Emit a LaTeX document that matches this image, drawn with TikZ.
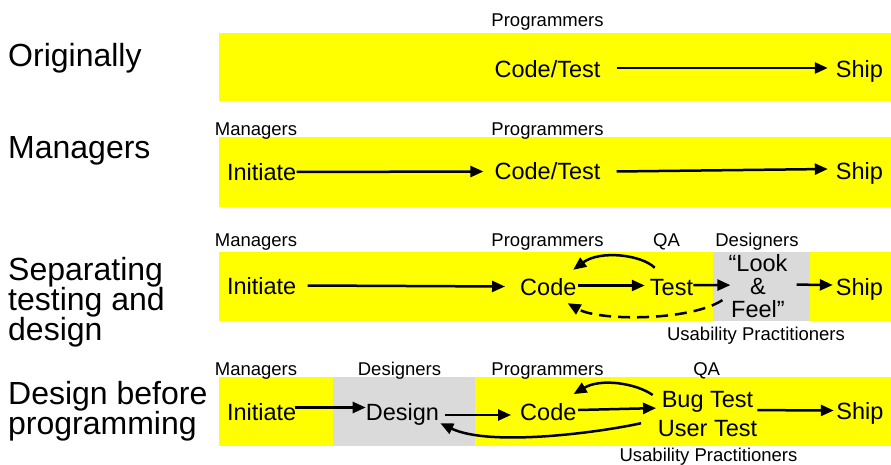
\documentclass[tikz,border=0pt]{standalone}
\usepackage{fontspec}
\setmainfont{Liberation Sans}
\usetikzlibrary{arrows.meta}
\definecolor{bandyellow}{RGB}{255,255,0}
\definecolor{bandgray}{RGB}{218,218,218}
\begin{document}
\begin{tikzpicture}[x=1pt,y=-1pt,
  band/.style={fill=bandyellow, draw=none},
  greyband/.style={fill=bandgray, draw=none},
  rowtitle/.style={font=\fontsize{32}{30}\selectfont, inner sep=0pt, align=left},
  role/.style={font=\fontsize{18.5}{18.5}\selectfont, inner sep=0pt, anchor=base},
  stage/.style={font=\fontsize{23.5}{23.5}\selectfont, inner sep=0pt,
                text height=17pt, text depth=0pt, anchor=base},
  stack/.style={font=\fontsize{23.5}{#1}\selectfont, inner sep=0pt,
                align=center, anchor=north},
  flow/.style={line width=2.5pt, -{Triangle[length=13pt,width=11pt]}},
  feedback/.style={flow, dash pattern=on 12pt off 7pt},
]
\useasboundingbox (0,0) rectangle (891,465);

% ---------- Originally ----------
\fill[band] (219,33) rectangle (891,101);
\node[rowtitle, anchor=base west] (t1) at (8,67) {Originally};
\node[role] (prog1) at (547.5,27) {Programmers};
\node[stage] (ct1) at (547.5,78) {Code/Test};
\node[stage] (ship1) at (859.5,78) {Ship};
\draw[flow] ([xshift=16pt,yshift=1.5pt]ct1.east) -- ([xshift=-8pt,yshift=1.5pt]ship1.west);

% ---------- Managers ----------
\fill[band] (219,137.5) rectangle (891,207.5);
\node[rowtitle, anchor=base west] (t2) at (8,159) {Managers};
\node[role] (mgr2) at (256,135.7) {Managers};
\node[role] (prog2) at (547.5,135.7) {Programmers};
\node[stage] (init2) at (261.7,180.5) {Initiate};
\node[stage] (ct2) at (547.5,180) {Code/Test};
\node[stage] (ship2) at (859.5,180) {Ship};
\draw[flow] (init2.east) -- ([xshift=-11pt]ct2.west);
\draw[flow] ([xshift=16pt]ct2.east) -- ([xshift=-8pt,yshift=2.5pt]ship2.west);

% ---------- Separating testing and design ----------
\fill[band] (219,252) rectangle (891,321);
\fill[greyband] (713,252) rectangle (810,321);
\node[rowtitle, anchor=north west] (t3) at (8,257.5) {Separating\\testing and\\design};
\node[role] (mgr3) at (256,246.3) {Managers};
\node[role] (prog3) at (547.5,246) {Programmers};
\node[role] (qa3) at (666.5,246) {QA};
\node[role] (des3) at (757,246) {Designers};
\node[role] (usab3) at (756,340) {Usability Practitioners};
\node[stage] (init3) at (261.7,294) {Initiate};
\node[stage] (code3) at (548.3,295) {Code};
\node[stage] (test3) at (671.5,295) {Test};
\node[stack=22.8] (lf3) at (758,254.5) {“Look\\\&\\Feel”};
\node[stage] (ship3) at (859.5,295) {Ship};
\draw[flow] ([xshift=11pt]init3.east) -- ([xshift=-15pt]code3.west);
\draw[flow] ([xshift=1.5pt,yshift=1pt]code3.east) -- ([xshift=-5pt,yshift=1pt]test3.west);
\draw[flow] ([yshift=1.5pt]test3.east) -- ([xshift=2pt,yshift=1pt]lf3.west);
\draw[flow] ([xshift=9pt,yshift=1.5pt]lf3.east) -- ([xshift=-3pt,yshift=1.5pt]ship3.west);
\draw[flow] ([xshift=5pt,yshift=10pt]test3.north west)
  .. controls +(-13,-13) and +(27,-20) .. ([xshift=-3.4pt,yshift=8pt]code3.north east);
\draw[feedback] ([xshift=-6pt,yshift=-14pt]lf3.west)
  .. controls +(-32,21) and +(32,18) .. ([xshift=-9pt,yshift=-8pt]code3.south east);

% ---------- Design before programming ----------
\fill[band] (219,377) rectangle (891,446);
\fill[greyband] (333.3,377) rectangle (475,446);
\node[rowtitle, anchor=north west] (t4) at (8,380.7) {Design before\\programming};
\node[role] (mgr4) at (256,375) {Managers};
\node[role] (des4) at (399.5,375) {Designers};
\node[role] (prog4) at (547.5,375) {Programmers};
\node[role] (qa4lbl) at (706.7,375) {QA};
\node[role] (usab4) at (708.5,461) {Usability Practitioners};
\node[stage] (init4) at (261.7,420) {Initiate};
\node[stage] (design4) at (402.5,420) {Design};
\node[stage] (code4) at (548.3,420) {Code};
\node[stack=28.4] (qa4) at (707.5,391.5) {Bug Test\\User Test};
\node[stage] (ship4) at (860,419) {Ship};
\draw[flow] ([xshift=-2pt,yshift=4pt]init4.east) -- ([yshift=4pt]design4.west);
\draw[flow] ([xshift=5.7pt,yshift=-3.5pt]design4.east) -- ([xshift=-9pt,yshift=-3.5pt]code4.west);
\draw[flow] ([xshift=1.6pt,yshift=1.5pt]code4.east) -- ([xshift=-1.6pt,yshift=6pt]qa4.west);
\draw[flow] ([yshift=4pt]qa4.east) -- ([xshift=-2.5pt]ship4.west);
\draw[flow] ([xshift=-5pt,yshift=-3.5pt]qa4.north west)
  .. controls +(-17,-12) and +(27,-16) .. ([xshift=-3pt,yshift=8.7pt]code4.north east);
\draw[flow] ([xshift=-16.6pt,yshift=13.5pt]qa4.south west)
  .. controls +(-40,9) and +(50,24) .. ([xshift=1pt,yshift=-3pt]design4.south east);
\end{tikzpicture}
\end{document}
